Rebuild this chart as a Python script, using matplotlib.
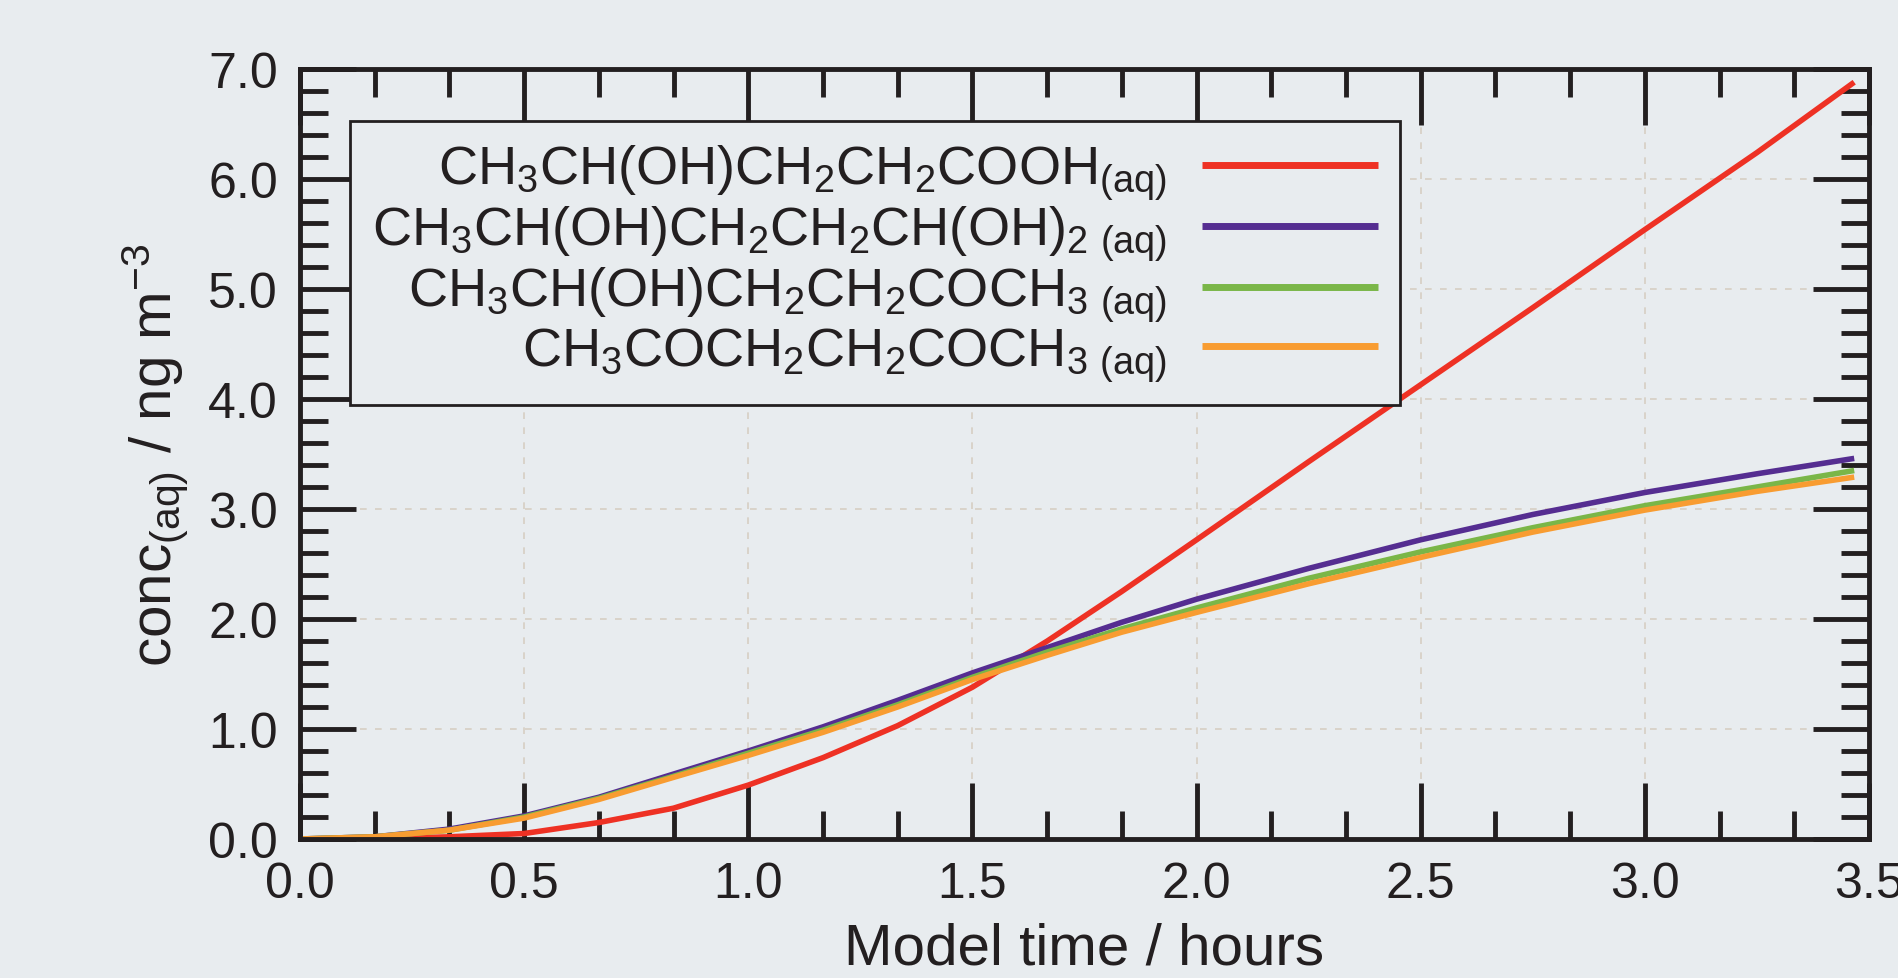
import matplotlib
matplotlib.use("Agg")
import matplotlib.pyplot as plt
import matplotlib.ticker as mticker

plt.rcParams['font.family'] = ['Liberation Sans', 'DejaVu Sans']
plt.rcParams['mathtext.default'] = 'regular'

# model time (hours)
hours = [0.0, 0.167, 0.333, 0.5, 0.667, 0.833, 1.0, 1.167, 1.333, 1.5,
         1.667, 1.833, 2.0, 2.25, 2.5, 2.75, 3.0, 3.25, 3.467]

# concentrations (ng m-3)
acid = [0.0, 0.0, 0.02, 0.05, 0.15, 0.28, 0.49, 0.74, 1.03, 1.38,
        1.80, 2.25, 2.72, 3.43, 4.13, 4.83, 5.54, 6.24, 6.88]
diol = [0.0, 0.02, 0.09, 0.21, 0.38, 0.59, 0.80, 1.02, 1.26, 1.51,
        1.74, 1.97, 2.18, 2.46, 2.72, 2.95, 3.15, 3.32, 3.46]
hydroxyketone = [0.0, 0.02, 0.08, 0.20, 0.37, 0.57, 0.78, 0.99, 1.22, 1.47,
                 1.70, 1.91, 2.10, 2.37, 2.61, 2.83, 3.03, 3.20, 3.35]
diketone = [0.0, 0.02, 0.08, 0.19, 0.36, 0.56, 0.76, 0.97, 1.20, 1.45,
            1.67, 1.88, 2.06, 2.32, 2.56, 2.79, 2.99, 3.16, 3.29]

labels = [
    "CH$_3$CH(OH)CH$_2$CH$_2$COOH$_{(aq)}$",
    "CH$_3$CH(OH)CH$_2$CH$_2$CH(OH)$_{2\\ (aq)}$",
    "CH$_3$CH(OH)CH$_2$CH$_2$COCH$_{3\\ (aq)}$",
    "CH$_3$COCH$_2$CH$_2$COCH$_{3\\ (aq)}$",
]
colors = ['#ee3124', '#552d91', '#7ab648', '#f89c31']

ink = '#231f20'
bg = '#e8ecef'
fig = plt.figure(figsize=(18.99, 9.79), dpi=100, facecolor=bg)
ax = fig.add_axes([300/1899, 1 - 840/979, 1569/1899, 770/979], facecolor=bg)

for y, lab, c in zip([acid, diol, hydroxyketone, diketone], labels, colors):
    ax.plot(hours, y, color=c, lw=4, label=lab, solid_capstyle='butt', solid_joinstyle='round')

ax.set_xlim(0, 3.5)
ax.set_ylim(0, 7)
ax.xaxis.set_major_locator(mticker.MultipleLocator(0.5))
ax.xaxis.set_minor_locator(mticker.MultipleLocator(0.5 / 3))
ax.yaxis.set_major_locator(mticker.MultipleLocator(1.0))
ax.yaxis.set_minor_locator(mticker.MultipleLocator(0.2))
ax.xaxis.set_major_formatter(mticker.FormatStrFormatter('%.1f'))
ax.yaxis.set_major_formatter(mticker.FormatStrFormatter('%.1f'))

ax.tick_params(which='both', direction='in', top=True, right=True, color=ink,
               labelsize=36, labelcolor=ink)
ax.tick_params(which='major', length=40, width=3.5, pad=16)
ax.tick_params(which='minor', length=20, width=3.5)
for s in ax.spines.values():
    s.set_linewidth(3.5)
    s.set_color(ink)

ax.grid(which='major', linestyle=(0, (4, 5)), color='#d6cfc3', lw=1.2)
ax.set_axisbelow(True)

ax.set_xlabel("Model time / hours", fontsize=42, color=ink, labelpad=10)
ax.set_ylabel("conc$_{(aq)}$ / ng m$^{-3}$", fontsize=42, color=ink, labelpad=12)

leg = ax.legend(loc='upper left', bbox_to_anchor=(50/1569, 1 - 52/770), borderaxespad=0,
                markerfirst=False, prop={'size': 39},
                frameon=True, fancybox=False, handlelength=3.25,
                handletextpad=0.65, labelspacing=0.02, borderpad=0.4, facecolor=bg)
leg.get_frame().set_edgecolor(ink)
leg.get_frame().set_linewidth(2)
leg.get_frame().set_alpha(1)
for t in leg.get_texts():
    t.set_ha('right')
    t.set_color(ink)
for ln in leg.get_lines():
    ln.set_linewidth(5)

fig.savefig("out.png", dpi=100, facecolor=bg)
